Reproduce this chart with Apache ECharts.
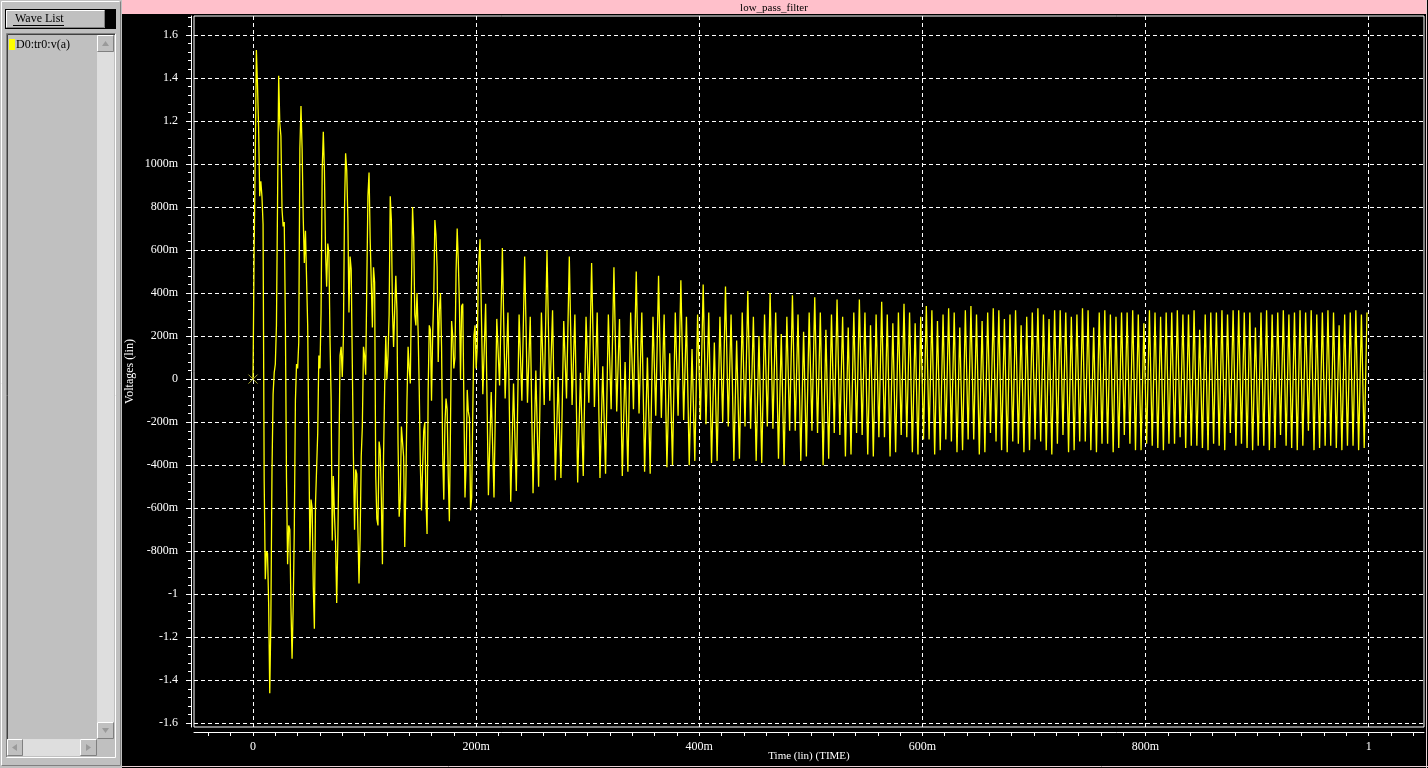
<!DOCTYPE html>
<html>
<head>
<meta charset="utf-8">
<title>low_pass_filter</title>
<script src="https://cdn.jsdelivr.net/npm/echarts@6.0.0/dist/echarts.min.js"></script>
<style>
  html, body { margin: 0; padding: 0; background: #000; }
  #chart { width: 1428px; height: 768px; }
</style>
</head>
<body>
<div id="chart"></div>
<script>
// wave name shown in the list and in the title bar
var plotTitle = 'low_pass_filter';
var waveName = 'D0:tr0:v(a)';

// axis ticks as the viewer prints them
var timeLabelValues = [0, 200, 400, 600, 800, 1000];          // ms
var timeTickLabels = ['0', '200m', '400m', '600m', '800m', '1'];
var voltTickValues = [-1.6, -1.4, -1.2, -1.0, -0.8, -0.6, -0.4, -0.2, 0, 0.2, 0.4, 0.6, 0.8, 1.0, 1.2, 1.4, 1.6];
var voltTickLabels = ['-1.6', '-1.4', '-1.2', '-1', '-800m', '-600m', '-400m', '-200m', '0',
                      '200m', '400m', '600m', '800m', '1000m', '1.2', '1.4', '1.6'];

// v(a), first 202 ms read every 1 ms
var EARLY_STEP_MS = 1;
var earlyVolts = [
   0.00,  0.60,  1.03,  1.53,  1.37,  1.17,  0.85,  0.92,  0.85,  0.72,
  -0.47, -0.93, -0.80, -0.81, -1.04, -1.46, -1.12, -0.43, -0.07,  0.03,
   0.07,  0.25,  0.83,  1.41,  1.19,  1.13,  0.79,  0.71,  0.73,  0.27,
  -0.46, -0.86, -0.68, -0.70, -1.06, -1.30, -1.06, -0.70, -0.10,  0.07,
   0.05,  0.17,  1.07,  1.27,  1.07,  0.75,  0.54,  0.69,  0.69,  0.25,
  -0.28, -0.80, -0.56, -0.60, -0.96, -1.16, -0.58, -0.58, -0.25,  0.11,
   0.05,  0.31,  0.97,  1.15,  0.97,  0.59,  0.43,  0.63,  0.59,  0.19,
  -0.09, -0.75, -0.45, -0.63, -0.76, -1.04, -0.76, -0.36,  0.11,  0.15,
   0.01,  0.19,  0.79,  1.05,  0.97,  0.75,  0.31,  0.57,  0.51,  0.07,
  -0.36, -0.70, -0.42, -0.44, -0.44, -0.95, -0.74, -0.36, -0.22,  0.15,
   0.11,  0.02,  0.45,  0.85,  0.96,  0.65,  0.45,  0.24,  0.52,  0.45,
  -0.45, -0.65, -0.68, -0.29, -0.33, -0.55, -0.86, -0.36, -0.04,  0.20,
   0.00,  0.11,  0.30,  0.85,  0.74,  0.32,  0.15,  0.32,  0.48,  0.32,
  -0.30, -0.64, -0.56, -0.22, -0.22, -0.36, -0.78, -0.50, -0.10,  0.15,
   0.05, -0.02,  0.42,  0.80,  0.66,  0.30,  0.25,  0.40,  0.22, -0.05,
  -0.40, -0.61, -0.41, -0.24, -0.20, -0.56, -0.72, -0.05,  0.25,  0.23,
  -0.10,  0.20,  0.38,  0.74,  0.67,  0.52,  0.08,  0.32,  0.40,  0.15,
  -0.35, -0.56, -0.21, -0.09, -0.14, -0.45, -0.66, -0.22,  0.27,  0.20,
   0.05,  0.10,  0.50,  0.70,  0.55,  0.35,  0.00,  0.34,  0.35, -0.10,
  -0.55, -0.40, -0.05, -0.15, -0.18, -0.61, -0.55, -0.15,  0.20,  0.25,
   0.05,  0.15,  0.50
];

// v(a) from 203.5 ms on, read every 2.5 ms (one row = one 20 ms swing)
var LATE_START_MS = 203.5;
var LATE_STEP_MS = 2.5;
var lateVolts = [
  0.65, -0.07, 0.35, -0.54, -0.06, -0.55, 0.28, -0.03,
  0.61, -0.09, 0.31, -0.57, -0.02, -0.52, 0.30, -0.10,
  0.57, -0.11, 0.29, -0.53,  0.04, -0.50, 0.31, -0.12,
  0.60, -0.10, 0.32, -0.47,  0.01, -0.46, 0.27, -0.09,
  0.57, -0.12, 0.30, -0.48,  0.03, -0.45, 0.29, -0.11,
  0.54, -0.13, 0.31, -0.46,  0.06, -0.44, 0.30, -0.14,
  0.52, -0.15, 0.28, -0.45,  0.08, -0.43, 0.31, -0.14,
  0.50, -0.16, 0.31, -0.43,  0.10, -0.44, 0.29, -0.17,
  0.48, -0.18, 0.30, -0.41,  0.12, -0.40, 0.31, -0.17,
  0.46, -0.19, 0.29, -0.40,  0.14, -0.38, 0.30, -0.19,
  0.44, -0.21, 0.31, -0.39,  0.17, -0.38, 0.29, -0.20,
  0.43, -0.22, 0.30, -0.38,  0.18, -0.37, 0.31, -0.22,
  0.41, -0.23, 0.29, -0.38,  0.20, -0.39, 0.30, -0.22,
  0.40, -0.23, 0.31, -0.37,  0.21, -0.40, 0.29, -0.24,
  0.39, -0.24, 0.30, -0.38,  0.22, -0.36, 0.31, -0.24,
  0.38, -0.25, 0.31, -0.40,  0.23, -0.37, 0.30, -0.25,
  0.37, -0.26, 0.29, -0.36,  0.24, -0.35, 0.31, -0.25,
  0.37, -0.26, 0.31, -0.35,  0.25, -0.36, 0.30, -0.27,
  0.36, -0.27, 0.30, -0.36,  0.26, -0.34, 0.31, -0.26,
  0.35, -0.27, 0.31, -0.34,  0.26, -0.35, 0.29, -0.28,
  0.34, -0.28, 0.32, -0.35,  0.27, -0.33, 0.30, -0.28,
  0.33, -0.29, 0.31, -0.34,  0.24, -0.33, 0.32, -0.28,
  0.34, -0.28, 0.30, -0.35,  0.27, -0.34, 0.31, -0.25,
  0.33, -0.29, 0.32, -0.33,  0.28, -0.34, 0.30, -0.29,
  0.32, -0.30, 0.25, -0.34,  0.29, -0.33, 0.31, -0.28,
  0.33, -0.29, 0.30, -0.33,  0.28, -0.35, 0.32, -0.30,
  0.32, -0.26, 0.31, -0.34,  0.29, -0.33, 0.30, -0.29,
  0.33, -0.29, 0.32, -0.33,  0.24, -0.34, 0.31, -0.30,
  0.32, -0.30, 0.30, -0.34,  0.29, -0.32, 0.31, -0.26,
  0.31, -0.30, 0.32, -0.33,  0.30, -0.33, 0.26, -0.30,
  0.32, -0.31, 0.31, -0.32,  0.29, -0.33, 0.31, -0.30,
  0.31, -0.30, 0.32, -0.27,  0.30, -0.32, 0.30, -0.31,
  0.32, -0.31, 0.23, -0.32,  0.30, -0.33, 0.31, -0.30,
  0.31, -0.31, 0.32, -0.33,  0.30, -0.25, 0.32, -0.31,
  0.32, -0.30, 0.31, -0.32,  0.31, -0.33, 0.24, -0.31,
  0.31, -0.31, 0.32, -0.33,  0.30, -0.32, 0.31, -0.26,
  0.32, -0.31, 0.30, -0.32,  0.31, -0.33, 0.32, -0.31,
  0.31, -0.24, 0.32, -0.33,  0.30, -0.32, 0.31, -0.31,
  0.32, -0.31, 0.31, -0.32,  0.25, -0.33, 0.30, -0.31,
  0.31, -0.31, 0.32, -0.33,  0.30, -0.32, 0.31
];

var points = [];
earlyVolts.forEach(function (v, i) { points.push([i * EARLY_STEP_MS, v]); });
lateVolts.forEach(function (v, j) { points.push([LATE_START_MS + j * LATE_STEP_MS, v]); });

// small ticks: 20 ms on the time axis, 0.04 V on the voltage axis
var timeMinorTicks = [];
for (var t = -40; t <= 1040; t += 20) timeMinorTicks.push(t);
var voltMinorTicks = [];
for (var k = -40; k <= 42; k++) voltMinorTicks.push(Math.round(k * 4) / 100);

function labelFor(values, labels, v) {
    for (var i = 0; i < values.length; i++) {
        if (Math.abs(values[i] - v) < 1e-6) return labels[i];
    }
    return '';
}

// raised grey box, like the old motif buttons
function bevel(x, y, w, h) {
    return [
        {type: 'rect', shape: {x: x, y: y, width: w, height: h}, style: {fill: '#c0c0c0'}},
        {type: 'polyline', shape: {points: [[x + 0.5, y + h - 0.5], [x + 0.5, y + 0.5], [x + w - 0.5, y + 0.5]]}, style: {stroke: '#ffffff', lineWidth: 1}},
        {type: 'polyline', shape: {points: [[x + 0.5, y + h - 0.5], [x + w - 0.5, y + h - 0.5], [x + w - 0.5, y + 0.5]]}, style: {stroke: '#808080', lineWidth: 1}}
    ];
}

var FONT = 'Liberation Serif';
var gridDash = {color: '#ffffff', width: 1, type: [4, 3]};

var chrome = [
    // wave list panel
    {type: 'rect', shape: {x: 0, y: 0, width: 122, height: 768}, style: {fill: '#c0c0c0'}},
    {type: 'polyline', shape: {points: [[1.5, 766], [1.5, 1.5], [119.5, 1.5]]}, style: {stroke: '#ffffff', lineWidth: 1}},
    {type: 'polyline', shape: {points: [[1.5, 765.5], [120.5, 765.5], [120.5, 1.5]]}, style: {stroke: '#808080', lineWidth: 1}},
    {type: 'rect', shape: {x: 5, y: 9, width: 111, height: 20}, style: {fill: '#000000'}}
].concat(bevel(6, 10, 99, 18)).concat([
    {type: 'text', style: {text: 'Wave List', x: 15, y: 19, fill: '#000', font: '12px "' + FONT + '"', verticalAlign: 'middle'}},
    {type: 'line', shape: {x1: 13, y1: 25.5, x2: 64, y2: 25.5}, style: {stroke: '#000', lineWidth: 1}},
    // list box (sunken)
    {type: 'polyline', shape: {points: [[6.5, 757], [6.5, 33.5], [116, 33.5]]}, style: {stroke: '#808080', lineWidth: 1}},
    {type: 'polyline', shape: {points: [[7.5, 756], [7.5, 34.5], [115, 34.5]]}, style: {stroke: '#404040', lineWidth: 1}},
    {type: 'polyline', shape: {points: [[6.5, 757.5], [115.5, 757.5], [115.5, 33.5]]}, style: {stroke: '#ffffff', lineWidth: 1}},
    {type: 'rect', shape: {x: 9, y: 39, width: 6, height: 11}, style: {fill: '#ffff00'}},
    {type: 'text', style: {text: waveName, x: 16, y: 45, fill: '#000', font: '12px "' + FONT + '"', verticalAlign: 'middle'}},
    // scroll tracks
    {type: 'rect', shape: {x: 97, y: 52, width: 17, height: 670}, style: {fill: '#dedede'}},
    {type: 'rect', shape: {x: 23, y: 739, width: 57, height: 17}, style: {fill: '#dedede'}}
]).concat(bevel(97, 35, 17, 17))
  .concat(bevel(97, 722, 17, 17))
  .concat(bevel(7, 739, 16, 17))
  .concat(bevel(80, 739, 17, 17))
  .concat([
    {type: 'rect', shape: {x: 97, y: 739, width: 18, height: 17}, style: {fill: '#c0c0c0'}},
    {type: 'polygon', shape: {points: [[102, 46], [109, 46], [105.5, 41]]}, style: {fill: '#9a9a9a'}},
    {type: 'polygon', shape: {points: [[102, 728], [109, 728], [105.5, 733]]}, style: {fill: '#9a9a9a'}},
    {type: 'polygon', shape: {points: [[17, 744], [17, 751], [12, 747.5]]}, style: {fill: '#9a9a9a'}},
    {type: 'polygon', shape: {points: [[86, 744], [86, 751], [91, 747.5]]}, style: {fill: '#9a9a9a'}},
    // title bar
    {type: 'rect', shape: {x: 122, y: 0, width: 1304, height: 14}, style: {fill: '#ffc0cb'}},
    {type: 'text', style: {text: plotTitle, x: 774, y: 8, fill: '#000', font: '11px "' + FONT + '"', align: 'center', verticalAlign: 'middle'}},
    // window edge
    {type: 'line', shape: {x1: 1426.5, y1: 0, x2: 1426.5, y2: 768}, style: {stroke: '#e8d0d4', lineWidth: 1}},
    {type: 'line', shape: {x1: 122, y1: 766.5, x2: 1428, y2: 766.5}, style: {stroke: '#e8d0d4', lineWidth: 1}}
]);

var chart = echarts.init(document.getElementById('chart'));
chart.setOption({
    animation: false,
    backgroundColor: '#000000',
    textStyle: {fontFamily: FONT},
    graphic: {elements: chrome.map(function (e) { e.silent = true; return e; })},
    grid: {left: 194, right: 4, top: 16, bottom: 41, outerBoundsMode: 'none',
           show: true, borderColor: '#ffffff', borderWidth: 1},
    xAxis: [{
        type: 'value', min: -52.9, max: 1049.6, position: 'bottom', offset: 5,
        axisLine: {onZero: false, lineStyle: {color: '#ffffff', width: 1}},
        axisTick: {customValues: timeMinorTicks, length: 4, lineStyle: {color: '#ffffff'}},
        axisLabel: {
            customValues: timeLabelValues, color: '#ffffff', fontSize: 12, margin: 9,
            formatter: function (v) { return labelFor(timeLabelValues, timeTickLabels, v); }
        },
        splitLine: {show: false},
        name: 'Time (lin) (TIME)', nameLocation: 'middle', nameGap: 19, nameMoveOverlap: false,
        nameTextStyle: {color: '#ffffff', fontSize: 11, fontFamily: FONT}
    }, {
        type: 'value', min: -52.9, max: 1049.6, position: 'bottom',
        axisLine: {show: false, onZero: false},
        axisTick: {show: false, customValues: timeLabelValues},
        axisLabel: {show: false},
        splitLine: {show: true, lineStyle: gridDash}
    }],
    yAxis: [{
        type: 'value', min: -1.617, max: 1.688, position: 'left', offset: 3,
        axisLine: {onZero: false, lineStyle: {color: '#ffffff', width: 1}},
        axisTick: {customValues: voltMinorTicks, length: 3, lineStyle: {color: '#ffffff'}},
        axisLabel: {
            customValues: voltTickValues, color: '#ffffff', fontSize: 12, margin: 13,
            formatter: function (v) { return labelFor(voltTickValues, voltTickLabels, v); }
        },
        splitLine: {show: false},
        name: 'Voltages (lin)', nameLocation: 'middle', nameGap: 55, nameMoveOverlap: false,
        nameTextStyle: {color: '#ffffff', fontSize: 12, fontFamily: FONT}
    }, {
        type: 'value', min: -1.617, max: 1.688, position: 'left', offset: 3,
        axisLine: {show: false, onZero: false},
        axisTick: {show: true, customValues: voltTickValues, length: 5, lineStyle: {color: '#ffffff'}},
        axisLabel: {show: false},
        splitLine: {show: true, lineStyle: gridDash}
    }],
    series: [{
        name: waveName,
        type: 'line',
        xAxisIndex: 0,
        yAxisIndex: 0,
        data: points,
        symbol: 'none',
        silent: true,
        lineStyle: {color: '#ffff00', width: 1.3},
        z: 3
    }, {
        // start marker of the trace
        type: 'scatter',
        xAxisIndex: 0,
        yAxisIndex: 0,
        data: [[0, earlyVolts[0]]],
        symbol: 'path://M0,0L10,10M10,0L0,10',
        symbolSize: 9,
        silent: true,
        itemStyle: {color: 'rgba(0,0,0,0)', borderColor: '#e0e040', borderWidth: 1},
        z: 4
    }]
});
</script>
</body>
</html>
